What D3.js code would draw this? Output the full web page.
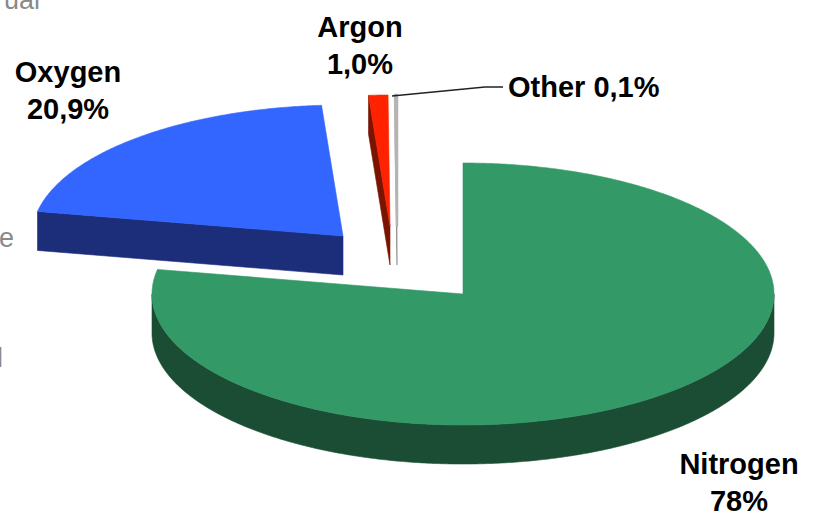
<!DOCTYPE html>
<html>
<head>
<meta charset="utf-8">
<script src="https://cdn.jsdelivr.net/npm/d3@7"></script>
<style>
  body { margin: 0; background: #fff; }
  svg { display: block; }
  .lbl { font-family: "Liberation Sans", Arial, sans-serif; font-weight: bold; font-size: 29px; fill: #000; }
  .stray { font-family: "Liberation Sans", Arial, sans-serif; font-size: 27px; fill: #8a8a8a; }
</style>
</head>
<body>
<div class="chart"></div>
<script>
// data
var names = ["Nitrogen", "Oxygen", "Argon", "Other"];
var shares = [78, 20.9, 1.0, 0.1];
var shareLabels = ["78%", "20,9%", "1,0%", "0,1%"];

// style
var topColors = ["#339966", "#3366ff", "#ff2200", "#b4b4b4"];
var sideColors = ["#1a4d33", "#1c2e7a", "#7a1400", "#7f7f7f"];

// layout
var W = 816, H = 515;
var cx = 463, cy = 294, rx = 311, ry = 131, depth = 39;
var explode = [[0, 0], [-120, -58], [-73, -68], [-66, -68]];
var labelPos = [[739, 474], [68, 82], [360, 37], [508, 97]];

let svg = d3.select('div.chart').append('svg')
  .attr("width", W).attr("height", H);

// stray text fragments from the neighbouring slide
svg.append("text").attr("class", "stray").attr("x", 40).attr("y", 9).attr("text-anchor", "end").text("ual");
svg.append("text").attr("class", "stray").attr("x", 14).attr("y", 247).attr("text-anchor", "end").text("e");
svg.append("text").attr("class", "stray").attr("x", 3).attr("y", 367).attr("text-anchor", "end").text("l");

var pie = d3.pie().sort(null).value(d => d);
var arcs = pie(shares);

var line = d3.line();

function pt(c, a, dz) {
  return [c[0] + rx * Math.sin(a), c[1] - ry * Math.cos(a) + (dz || 0)];
}

function arcPts(c, a0, a1, dz) {
  var n = Math.max(2, Math.ceil(Math.abs(a1 - a0) / (Math.PI / 360)));
  return d3.range(n + 1).map(i => pt(c, a0 + (a1 - a0) * i / n, dz));
}

var slices = arcs.map((d, i) => ({
  i: i,
  a0: d.startAngle,
  a1: d.endAngle,
  c: [cx + explode[i][0], cy + explode[i][1]]
}));

// paint back slices first
var order = slices.slice().sort((a, b) => a.c[1] - b.c[1]);

var g = svg.append("g");

order.forEach(s => {
  var sg = g.append("g").attr("class", "slice " + names[s.i]);
  var c = s.c;

  // outer curved side (front half only)
  var st = Math.max(s.a0, Math.PI / 2), en = Math.min(s.a1, 3 * Math.PI / 2);
  if (st < en) {
    var pts = arcPts(c, st, en, 0).concat(arcPts(c, en, st, depth));
    sg.append("path").attr("d", line(pts) + "Z")
      .attr("fill", sideColors[s.i]).attr("stroke", sideColors[s.i]).attr("stroke-width", 0.6);
  }

  // radial cut faces
  if (Math.sin(s.a0) < -1e-6) {
    var p = pt(c, s.a0, 0);
    sg.append("path").attr("d", line([c, p, [p[0], p[1] + depth], [c[0], c[1] + depth]]) + "Z")
      .attr("fill", sideColors[s.i]).attr("stroke", sideColors[s.i]).attr("stroke-width", 0.6);
  }
  if (Math.sin(s.a1) > 1e-6) {
    var q = pt(c, s.a1, 0);
    sg.append("path").attr("d", line([c, q, [q[0], q[1] + depth], [c[0], c[1] + depth]]) + "Z")
      .attr("fill", sideColors[s.i]).attr("stroke", sideColors[s.i]).attr("stroke-width", 0.6);
  }

  // top face
  sg.append("path").attr("d", line([c].concat(arcPts(c, s.a0, s.a1, 0))) + "Z")
    .attr("fill", topColors[s.i])
    .attr("stroke", topColors[s.i])
    .attr("stroke-width", s.i == 3 ? 2.5 : 0.6)
    .attr("stroke-linejoin", "round");
});

// labels
slices.forEach(s => {
  var lp = labelPos[s.i];
  if (names[s.i] == "Other") {
    var m = pt(s.c, (s.a0 + s.a1) / 2, 0);
    svg.append("path")
      .attr("d", line([[m[0] - 4, m[1] + 1], [lp[0] - 23, lp[1] - 10], [lp[0] - 5, lp[1] - 10]]))
      .attr("fill", "none").attr("stroke", "#222").attr("stroke-width", 1.3);
    svg.append("text").attr("class", "lbl")
      .attr("x", lp[0]).attr("y", lp[1])
      .text(names[s.i] + " " + shareLabels[s.i]);
  } else {
    var t = svg.append("text").attr("class", "lbl").attr("text-anchor", "middle");
    t.append("tspan").attr("x", lp[0]).attr("y", lp[1]).text(names[s.i]);
    t.append("tspan").attr("x", lp[0]).attr("y", lp[1] + 37).text(shareLabels[s.i]);
  }
});
</script>
</body>
</html>
